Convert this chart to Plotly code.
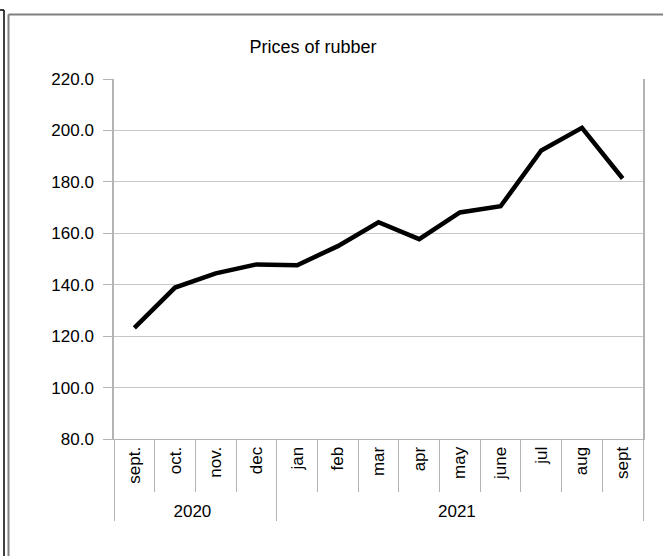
import plotly.graph_objects as go

years = ["2020"] * 4 + ["2021"] * 9
months = ["sept.", "oct.", "nov.", "dec", "jan", "feb", "mar", "apr", "may", "june", "jul", "aug", "sept"]
prices = [123.2, 138.9, 144.4, 147.9, 147.6, 155.0, 164.3, 157.7, 168.1, 170.5, 192.2, 201.0, 181.3]

FONT = "Liberation Sans, Arial, sans-serif"
GRID = "#c6c6c6"
AXIS = "#b3b3b3"

fig = go.Figure(
    go.Scatter(
        x=[years, months],
        y=prices,
        mode="lines",
        line=dict(color="black", width=4.5),
        hoverinfo="skip",
    )
)

L, R, T, B = 114, 20, 79, 117
W, H = 663, 556
pw, ph = W - L - R, H - T - B


def px(x):
    return (x - L) / pw


def py(y):
    return (H - B - y) / ph


shapes = [
    # grey outer frame (top and left)
    dict(type="line", xref="paper", yref="paper", x0=px(8.5), x1=px(663), y0=py(14.5), y1=py(14.5),
         line=dict(color="#808080", width=2)),
    dict(type="line", xref="paper", yref="paper", x0=px(8.5), x1=px(8.5), y0=py(14.5), y1=py(556),
         line=dict(color="#808080", width=2)),
    # black edge at far left
    dict(type="line", xref="paper", yref="paper", x0=px(0), x1=px(4), y0=py(10), y1=py(10),
         line=dict(color="black", width=1.5)),
    dict(type="line", xref="paper", yref="paper", x0=px(4), x1=px(4), y0=py(10), y1=py(556),
         line=dict(color="black", width=1.5)),
]

fig.update_layout(
    width=W,
    height=H,
    margin=dict(l=L, r=R, t=T, b=B, autoexpand=False),
    paper_bgcolor="white",
    plot_bgcolor="white",
    showlegend=False,
    font=dict(family=FONT, size=16, color="black"),
    title=dict(text="Prices of rubber", x=313 / W, xanchor="center", y=1 - 47 / H, yanchor="middle",
               font=dict(family=FONT, size=18, color="black")),
    shapes=shapes,
    xaxis=dict(
        type="multicategory",
        range=[-0.5, 12.5],
        tickangle=-90,
        ticks="outside",
        tickson="boundaries",
        ticklen=52,
        tickcolor=AXIS,
        tickwidth=1,
        showdividers=True,
        dividercolor=AXIS,
        dividerwidth=1,
        showline=True,
        linecolor=AXIS,
        linewidth=1,
        showgrid=False,
        automargin=False,
        tickfont=dict(family=FONT, size=17, color="black"),
    ),
    yaxis=dict(
        range=[80, 220],
        dtick=20,
        tick0=80,
        tickformat=".1f",
        ticks="outside",
        ticklen=9,
        ticklabelstandoff=6,
        tickcolor=AXIS,
        showline=True,
        linecolor=AXIS,
        linewidth=1.5,
        mirror=True,
        showgrid=True,
        gridcolor=GRID,
        gridwidth=1,
        zeroline=False,
        automargin=False,
        tickfont=dict(family=FONT, size=17, color="black"),
    ),
)

fig.write_html(
    "out.html",
    config={"displayModeBar": False},
    post_script="document.body.style.margin='0';document.body.style.overflow='hidden';",
)
